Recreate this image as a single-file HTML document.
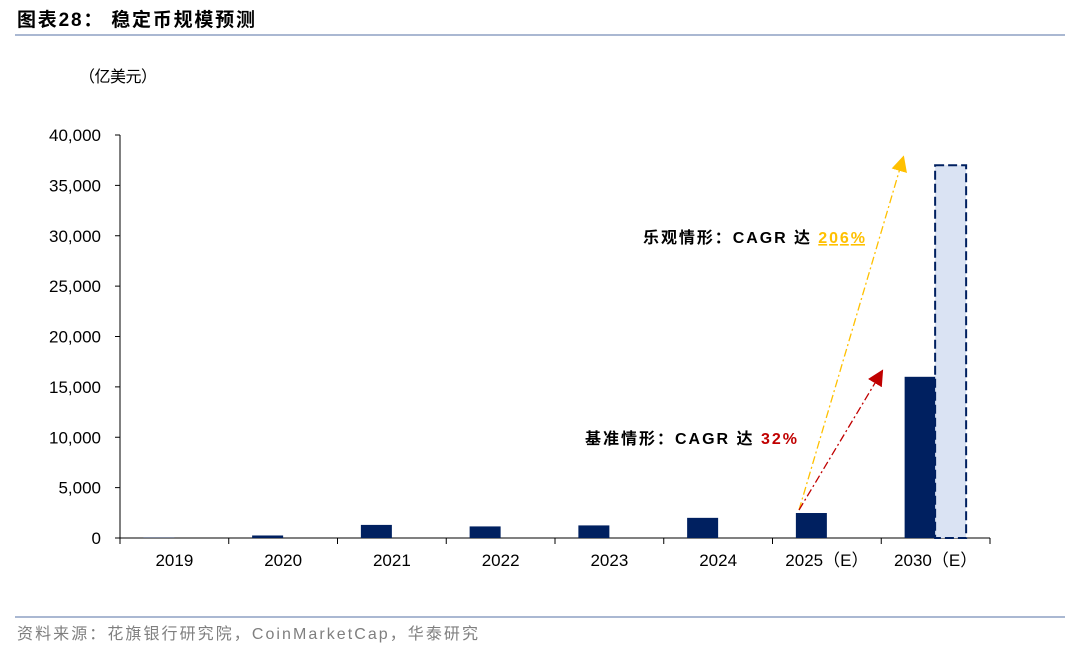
<!DOCTYPE html>
<html><head><meta charset="utf-8"><style>
body{margin:0;background:#fff;width:1080px;height:649px;overflow:hidden;font-family:"Liberation Sans","Noto Sans CJK SC",sans-serif}
</style></head><body>
<svg width="1080" height="649" xmlns="http://www.w3.org/2000/svg" font-family="Liberation Sans, Noto Sans CJK SC, sans-serif">
<defs>
<marker id="ay" markerWidth="16" markerHeight="16" refX="6" refY="8" orient="auto" markerUnits="userSpaceOnUse" viewBox="0 0 16 16"><path d="M0,0 L16,8 L0,16z" fill="#FFC000"/></marker>
<marker id="ar" markerWidth="16" markerHeight="16" refX="6" refY="8" orient="auto" markerUnits="userSpaceOnUse" viewBox="0 0 16 16"><path d="M0,0 L16,8 L0,16z" fill="#C00000"/></marker>
</defs>
<text x="17" y="26" font-size="19" font-weight="bold" fill="#000" textLength="238">图表28：  稳定币规模预测</text>
<line x1="15" y1="35" x2="1065" y2="35" stroke="#8EA1C4" stroke-width="1.5"/>
<text x="79" y="82" font-size="16" fill="#000" textLength="78">（亿美元）</text>
<g id="axes"></g>
<g id="bars"></g>
<line x1="799" y1="510" x2="901" y2="165" stroke="#FFC000" stroke-width="1.3" stroke-dasharray="8,3,2,3" marker-end="url(#ay)"/>
<line x1="799" y1="510" x2="878" y2="378" stroke="#C00000" stroke-width="1.3" stroke-dasharray="8,3,2,3" marker-end="url(#ar)"/>
<text x="643" y="243" font-size="16" font-weight="bold" fill="#000" textLength="222">乐观情形：CAGR 达 <tspan fill="#FFC000" text-decoration="underline">206%</tspan></text>
<text x="585" y="444" font-size="16" font-weight="bold" fill="#000" textLength="212">基准情形：CAGR 达 <tspan fill="#C00000">32%</tspan></text>
<line x1="15" y1="617" x2="1065" y2="617" stroke="#8EA1C4" stroke-width="1.5"/>
<text x="17" y="639" font-size="16" fill="#7F7F7F" textLength="461">资料来源：花旗银行研究院，CoinMarketCap，华泰研究</text>
</svg>
<script>
const categories=["2019","2020","2021","2022","2023","2024","2025（E）","2030（E）"];
const baseValues=[30,250,1300,1150,1250,2000,2480,16000];
const optimisticValues=[null,null,null,null,null,null,null,37000];
const yTicks=[0,5000,10000,15000,20000,25000,30000,35000,40000];
const NS="http://www.w3.org/2000/svg";
const x0=120,x1=990,yB=538,yT=135,yMax=40000;
const band=(x1-x0)/categories.length;
const xc=i=>x0+band*(i+0.5);
const ys=v=>yB-(yB-yT)*v/yMax;
function mk(tag,attrs,parent){const e=document.createElementNS(NS,tag);for(const k in attrs)e.setAttribute(k,attrs[k]);parent.appendChild(e);return e;}
const ax=document.getElementById('axes'),bg=document.getElementById('bars');
let l=mk('line',{x1:x0,y1:yT,x2:x0,y2:yB,stroke:'#000'},ax);


l=mk('line',{x1:x0,y1:yB,x2:x1,y2:yB,stroke:'#000'},ax);


yTicks.forEach(v=>{const y=ys(v);
 mk('line',{x1:x0-5,y1:y,x2:x0,y2:y,stroke:'#000'},ax);
 const t=mk('text',{x:x0-19,y:y+6,'font-size':17,'text-anchor':'end',fill:'#000'},ax);
 t.textContent=v.toLocaleString('en-US');
 
 
});
for(let i=0;i<=categories.length;i++){const x=x0+band*i;mk('line',{x1:x,y1:yB,x2:x,y2:yB+6,stroke:'#000'},ax);}
categories.forEach((c,i)=>{
 const t=mk('text',{x:xc(i),y:566,'font-size':17,'text-anchor':'middle',fill:'#000'},ax);
 t.textContent=c;
 
 
 const bw=31;
 if(baseValues[i]!=null){const r=mk('rect',{x:xc(i)-bw,y:ys(baseValues[i]),width:bw,height:yB-ys(baseValues[i]),fill:'#002060'},bg);
  
  }
 if(optimisticValues[i]!=null){const r=mk('rect',{x:xc(i)-0.5,y:ys(optimisticValues[i]),width:bw,height:yB-ys(optimisticValues[i]),fill:'#DAE3F3',stroke:'#002060','stroke-width':2,'stroke-dasharray':'9,4'},bg);
  
  }
});
</script>
</body></html>
